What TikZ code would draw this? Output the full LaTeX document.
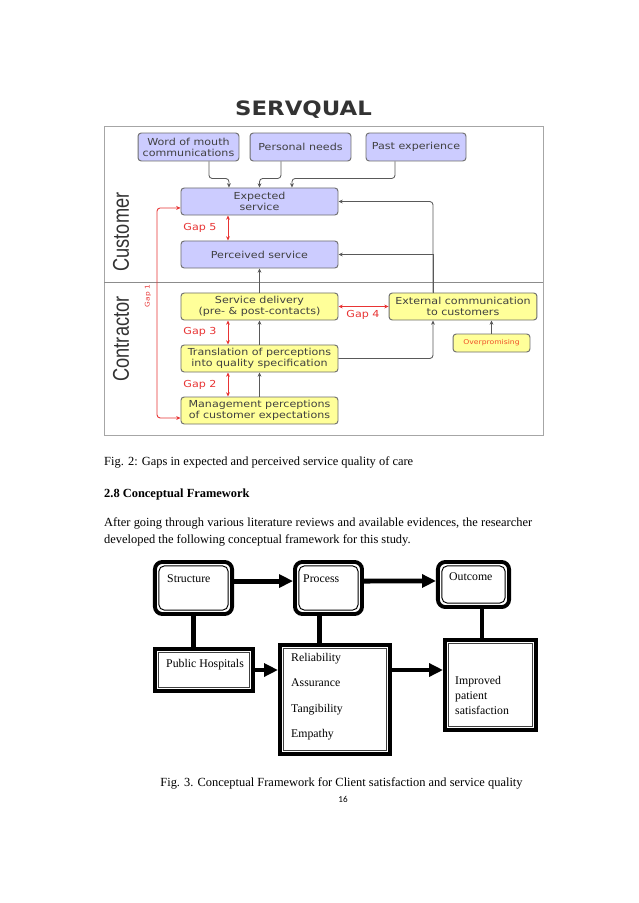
\documentclass[tikz,border=0pt]{standalone}
\usepackage{fontspec}
\usepackage{graphicx}
\setmainfont{Liberation Serif}
\newfontfamily\vfont[FakeStretch=1.15]{DejaVu Sans}
\newfontfamily\afont{Liberation Sans}
\newfontfamily\cfont{Carlito}
\usetikzlibrary{arrows.meta}
\definecolor{bluefill}{RGB}{204,204,255}
\definecolor{yellowfill}{RGB}{255,255,153}
\definecolor{boxedge}{RGB}{110,110,110}
\definecolor{boxtext}{RGB}{64,64,64}
\definecolor{gapred}{RGB}{232,52,52}
\definecolor{ovred}{RGB}{240,80,40}
\tikzset{
    qbox/.style={draw=boxedge, line width=0.9pt, rounded corners=3pt, text=boxtext,
        align=center, inner sep=0pt, minimum height=25.2pt,
        font=\vfont\fontsize{9}{10.3}\selectfont},
    custbox/.style={qbox, fill=bluefill},
    contbox/.style={qbox, fill=yellowfill},
    wide/.style={minimum width=146.5pt},
    link/.style={draw=black!65, line width=0.8pt, -{Stealth[length=4pt,width=3.6pt]}},
    gap/.style={draw=gapred, line width=0.8pt,
        {Stealth[length=4pt,width=3.6pt]}-{Stealth[length=4pt,width=3.6pt]}},
    gaplabel/.style={text=gapred, inner sep=0pt, font=\vfont\fontsize{9}{10}\selectfont},
    side/.style={text=black!80, inner sep=0pt, font=\afont\fontsize{17}{19}\selectfont},
    roundframe/.style={draw, line width=3.6pt, rounded corners=7pt},
    plainframe/.style={draw, line width=3.6pt},
    flow/.style={line width=4.6pt, -{Triangle[length=13pt,width=12pt]}},
    tie/.style={line width=4.6pt},
    ftext/.style={anchor=base west, inner sep=0pt, font=\fontsize{11}{13}\selectfont},
    body/.style={anchor=base west, inner sep=0pt, font=\fontsize{11.6}{14}\selectfont},
}

\begin{document}
\begin{tikzpicture}[x=0.933pt,y=-0.933pt]
\useasboundingbox[fill=white] (0,0) rectangle (638,903);

% SERVQUAL
\node[text=black!80, font=\vfont\bfseries\fontsize{18.5}{20}\selectfont] (title) at (303.5,110) {SERVQUAL};
\draw[black!35, line width=0.9pt] (104,126) rectangle (543,435);
\draw[black!45, line width=0.7pt] (104,282) -- (543,282);
\node[side, rotate=90] (cu) at (121,232) {\scalebox{1}[1.25]{Customer}};
\node[side, rotate=90] (co) at (121,339) {\scalebox{1}[1.25]{Contractor}};

\node[custbox, minimum width=94.2pt, minimum height=26.1pt] (wom) at (188.5,147) {Word of mouth\\communications};
\node[custbox, minimum width=94.2pt, minimum height=26.1pt] (pn) at (300.5,147) {Personal needs};
\node[custbox, minimum width=93.3pt, minimum height=26.1pt] (pe) at (416,147) {Past experience};
\node[custbox, wide] (exp) at (259.5,201.5) {Expected\\service};
\node[custbox, wide] (per) at (259.5,254.5) {Perceived service};
\node[contbox, wide] (sd) at (259.5,306.5) {Service delivery\\(pre- \& post-contacts)};
\node[contbox, minimum width=138pt] (ext) at (463,306.5) {External communication\\to customers};
\node[contbox, wide] (tr) at (259.5,358.5) {Translation of perceptions\\into quality specification};
\node[contbox, wide] (mg) at (259.5,410.5) {Management perceptions\\of customer expectations};
\node[contbox, minimum width=71.8pt, minimum height=16.8pt, text=ovred,
    font=\vfont\fontsize{6.2}{7}\selectfont] (ov) at (491.5,343) {Overpromising};

\draw[link, rounded corners=3pt] ([xshift=19.1pt]wom.south) -- ++(0,17) -| ([xshift=-28.5pt]exp.north);
\draw[link, rounded corners=3pt] ([xshift=-18.2pt]pn.south) -- ++(0,17) -| (exp.north);
\draw[link, rounded corners=3pt] ([xshift=-19.6pt]pe.south) -- ++(0,17) -| ([xshift=30.3pt]exp.north);
\draw[link, rounded corners=3pt] ([xshift=-28pt]ext.north) |- (exp.east);
\draw[link] ([xshift=-28pt]ext.north) |- (per.east);
\draw[link] (sd.north) -- (per.south);
\draw[link] (tr.north) -- (sd.south);
\draw[link] (mg.north) -- (tr.south);
\draw[link, rounded corners=3pt] (tr.east) -| ([xshift=-28pt]ext.south);
\draw[link] (ov.north) -- (ov.north |- ext.south);

\draw[gap] ([xshift=-29.4pt]exp.south) -- ([xshift=-29.4pt]per.north);
\draw[gap] ([xshift=-29.4pt]sd.south) -- ([xshift=-29.4pt]tr.north);
\draw[gap] ([xshift=-29.4pt]tr.south) -- ([xshift=-29.4pt]mg.north);
\draw[gap] (sd.east) -- (ext.west);
\coordinate (g1) at (157,300);
\draw[gap, rounded corners=3pt] ([yshift=-6pt]exp.west) -| (g1) |- ([yshift=-7pt]mg.west);

\node[gaplabel] (g5) at (200,228) {Gap 5};
\node[gaplabel] (g4) at (363,315) {Gap 4};
\node[gaplabel] (g3) at (200,332) {Gap 3};
\node[gaplabel] (g2) at (200,385) {Gap 2};
\node[gaplabel, rotate=90, font=\vfont\fontsize{6}{7}\selectfont] (gl1) at (148,296) {Gap 1};

% text
\node[body] (cap2) at (104,465.5) {Fig. 2: Gaps in expected and perceived service quality of care};
\node[body, font=\fontsize{11.6}{14}\selectfont\bfseries] (head) at (104,497) {2.8 Conceptual Framework};
\node[body] (par1) at (104,526) {\makebox[399.3pt][s]{After going through various literature reviews and available evidences, the researcher}};
\node[body] (par2) at (104,543) {developed the following conceptual framework for this study.};

% framework
\node[roundframe, minimum width=72pt, minimum height=48.6pt] (st) at (193.5,588) {};
\node[roundframe, minimum width=62.6pt, minimum height=48.6pt] (pr) at (328.5,588) {};
\node[roundframe, minimum width=66.4pt, minimum height=42.1pt] (oc) at (473.5,584.5) {};
\node[plainframe, minimum width=91.6pt, minimum height=39.3pt] (ph) at (204,670) {};
\node[plainframe, minimum width=102.8pt, minimum height=101.8pt] (dm) at (335,699.5) {};
\node[plainframe, minimum width=85pt, minimum height=84.1pt] (im) at (490.5,685) {};
\foreach \b in {st,pr,oc}
    \draw[line width=0.9pt, rounded corners=5pt] ([shift={(5.5pt,-5.5pt)}]\b.north west) rectangle ([shift={(-5.5pt,5.5pt)}]\b.south east);
\foreach \b in {ph,dm,im}
    \draw[line width=0.8pt, black!75] ([shift={(5.5pt,-5.5pt)}]\b.north west) rectangle ([shift={(-5.5pt,5.5pt)}]\b.south east);

\node[ftext] (stt) at (167,582) {Structure};
\node[ftext] (prt) at (303,582) {Process};
\node[ftext] (oct) at (449,580) {Outcome};
\node[ftext] (pht) at (166,667) {Public Hospitals};
\foreach \t [count=\i] in {Reliability,Assurance,Tangibility,Empathy}
    \node[ftext] (dm\i) at (291,635.5+25.5*\i) {\t};
\foreach \t [count=\i] in {Improved,patient,satisfaction}
    \node[ftext] (im\i) at (455,669+15*\i) {\t};

\draw[flow] ([yshift=6.5pt]st.east) -- ([yshift=6.5pt]pr.west);
\draw[flow] ([yshift=6.5pt]pr.east) -- ([yshift=3.3pt]oc.west);
\draw[flow] (ph.east) -- (ph.east -| dm.west);
\draw[flow] (ph.east -| dm.east) -- (ph.east -| im.west);
\path ([xshift=-8pt]pr.south) coordinate (pb) ([xshift=7.9pt]oc.south) coordinate (ob);
\draw[tie] (st.south) -- (st.south |- ph.north);
\draw[tie] (pb) -- (pb |- dm.north);
\draw[tie] (ob) -- (ob |- im.north);

\node[anchor=base, inner sep=0pt, font=\fontsize{11.6}{14}\selectfont] (cap3) at (341.5,786) {Fig. 3. Conceptual Framework for Client satisfaction and service quality};
\node[anchor=base, inner sep=0pt, font=\cfont\fontsize{8.5}{10}\selectfont] (pg) at (343,802) {16};
\end{tikzpicture}
\end{document}
